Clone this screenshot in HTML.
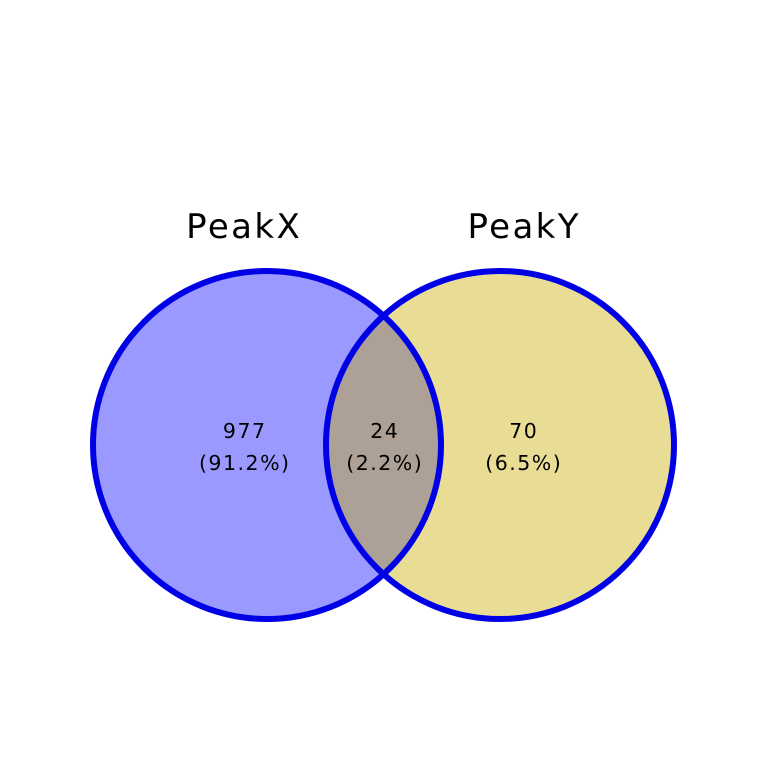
<!DOCTYPE html>
<html><head><meta charset="utf-8">
<style>
html,body{margin:0;padding:0;background:#fff;}
svg{display:block;}
text{font-family:"DejaVu Sans","Liberation Sans",sans-serif;fill:#000;}
</style></head>
<body>
<svg id="chart" width="768" height="768" viewBox="0 0 768 768">
<defs><clipPath id="clipLeft"><circle id="clipCircle"/></clipPath></defs>
<g id="fills"></g><g id="strokes"></g><g id="labels"></g>
</svg>
<script>
const setNames = ["PeakX", "PeakY"];
const regionCounts = [977, 24, 70]; // X only, both, Y only
const regionNames = ["x-only", "intersection", "y-only"];

const NS = "http://www.w3.org/2000/svg";
const svg = document.getElementById("chart");
const fills = document.getElementById("fills");
const strokes = document.getElementById("strokes");
const labels = document.getElementById("labels");
const cy = 445, r = 174, cxL = 267, cxR = 500;
const total = regionCounts.reduce((a,b)=>a+b,0);

function mk(tag, attrs, parent){ const e=document.createElementNS(NS,tag); for(const k in attrs) e.setAttribute(k,attrs[k]); parent.appendChild(e); return e; }

const cc = document.getElementById("clipCircle");
cc.setAttribute("cx",cxL); cc.setAttribute("cy",cy); cc.setAttribute("r",r);

const f1 = mk("circle",{cx:cxL,cy:cy,r:r,fill:"#9999FF"},fills);


const f2 = mk("circle",{cx:cxR,cy:cy,r:r,fill:"#E9DD95"},fills);


const f3 = mk("circle",{cx:cxR,cy:cy,r:r,fill:"#ADA096","clip-path":"url(#clipLeft)"},fills);



[cxL,cxR].forEach((cx,i)=>{
  const s = mk("circle",{cx:cx,cy:cy,r:r,fill:"none",stroke:"#0000E6","stroke-width":6},strokes);
  
  
});

const titleX = [243, 523];
setNames.forEach((n,i)=>{
  const t = mk("text",{x:titleX[i]+1.2,y:238,"font-size":34,"letter-spacing":2.4,"text-anchor":"middle"},labels);
  t.textContent = n;
  
  
});

const regionX = [244, 384, 523];
regionCounts.forEach((c,i)=>{
  const t = mk("text",{x:regionX[i]+0.75,y:438,"font-size":20.5,"letter-spacing":1.5,"text-anchor":"middle"},labels);
  t.textContent = String(c);
  
  
  const p = mk("text",{x:regionX[i]+0.75,y:470,"font-size":20.5,"letter-spacing":1.5,"text-anchor":"middle"},labels);
  p.textContent = "(" + (c/total*100).toFixed(1) + "%)";
  
  
});
</script>
</body></html>
